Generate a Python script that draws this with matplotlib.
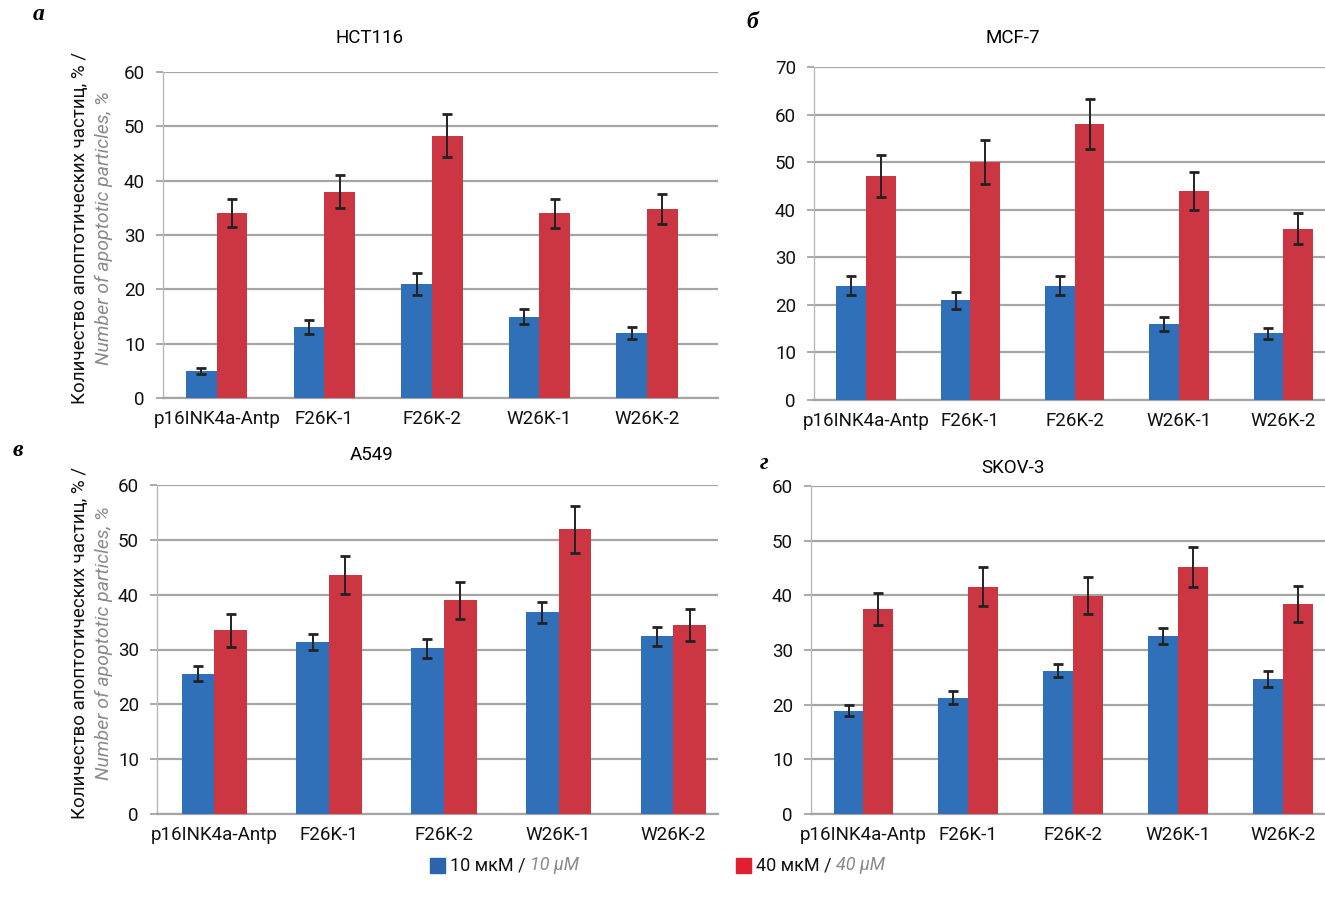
import matplotlib
matplotlib.use("Agg")
import matplotlib.pyplot as plt
from matplotlib.patches import Rectangle
import numpy as np

plt.rcParams['font.family'] = ['Roboto', 'DejaVu Sans']

categories = ['p16INK4a-Antp', 'F26K-1', 'F26K-2', 'W26K-1', 'W26K-2']

# HCT116
hct116_10 = [5, 13, 21, 15, 12]
hct116_10_err = [0.5, 1.3, 2.0, 1.4, 1.1]
hct116_40 = [34, 38, 48.3, 34, 34.8]
hct116_40_err = [2.6, 3.0, 4.0, 2.7, 2.8]

# MCF-7
mcf7_10 = [24, 21, 24, 16, 14]
mcf7_10_err = [2.0, 1.8, 2.0, 1.5, 1.2]
mcf7_40 = [47, 50, 58, 44, 36]
mcf7_40_err = [4.4, 4.6, 5.2, 4.0, 3.3]

# A549
a549_10 = [25.6, 31.4, 30.2, 36.8, 32.4]
a549_10_err = [1.4, 1.5, 1.7, 1.9, 1.7]
a549_40 = [33.5, 43.6, 39.0, 51.9, 34.5]
a549_40_err = [3.0, 3.5, 3.4, 4.3, 2.9]

# SKOV-3
skov3_10 = [18.9, 21.3, 26.2, 32.6, 24.7]
skov3_10_err = [1.0, 1.2, 1.2, 1.5, 1.4]
skov3_40 = [37.5, 41.6, 39.9, 45.2, 38.4]
skov3_40_err = [3.0, 3.5, 3.4, 3.7, 3.3]

W, H = 1325, 901
BLUE = '#3070b8'
RED = '#cc3642'
GRID = '#a5a5a5'

fig = plt.figure(figsize=(W / 100, H / 100), dpi=100)


def px(x, y):
    return x / W, 1 - y / H


def panel(rect, title, title_xy, letter, letter_xy, v10, e10, v40, e40, ymax, xmax):
    l, t, r, b = rect
    ax = fig.add_axes([l / W, 1 - b / H, (r - l) / W, (b - t) / H])
    x = np.arange(len(categories))
    w = 0.285
    ax.bar(x - w / 2, v10, w, color=BLUE, zorder=3)
    ax.bar(x + w / 2, v40, w, color=RED, zorder=3)
    ax.errorbar(x - w / 2, v10, yerr=e10, fmt='none', ecolor='#222222',
                elinewidth=1.4, capsize=3.5, capthick=2, zorder=4)
    ax.errorbar(x + w / 2, v40, yerr=e40, fmt='none', ecolor='#222222',
                elinewidth=1.4, capsize=3.5, capthick=2, zorder=4)
    ax.set_xlim(-0.5, xmax)
    ax.set_ylim(0, ymax)
    ax.set_yticks(np.arange(0, ymax + 1, 10))
    ax.set_xticks(x)
    ax.set_xticklabels(categories)
    ax.yaxis.grid(True, color=GRID, lw=1.6, zorder=0)
    ax.set_axisbelow(True)
    for s in ['top', 'right']:
        ax.spines[s].set_visible(False)
    ax.spines['left'].set_color('#b8b8b8')
    ax.spines['left'].set_linewidth(1.0)
    ax.spines['bottom'].set_color(GRID)
    ax.spines['bottom'].set_linewidth(1.6)
    ax.tick_params(axis='y', length=5, width=1.3, color=GRID, pad=8,
                   labelsize=13.5, labelcolor='#111111')
    ax.tick_params(axis='x', length=0, pad=9, labelsize=13.5, labelcolor='#111111')
    fig.text(*px(*title_xy), title, ha='center', va='center', fontsize=13.5)
    fig.text(*px(*letter_xy), letter, ha='center', va='center', fontsize=17,
             family='Liberation Serif', weight='bold', style='italic')
    return ax


panel((163, 72, 718, 398), 'HCT116', (370, 38), 'а', (39, 15),
      hct116_10, hct116_10_err, hct116_40, hct116_40_err, 60, 4.66)
panel((814, 67, 1325, 400), 'MCF-7', (1013, 38), 'б', (752, 22),
      mcf7_10, mcf7_10_err, mcf7_40, mcf7_40_err, 70, 4.4)
panel((157, 485, 718, 814), 'A549', (372, 455), 'в', (18, 450),
      a549_10, a549_10_err, a549_40, a549_40_err, 60, 4.39)
panel((811, 486, 1325, 814), 'SKOV-3', (1013, 468), 'г', (764, 463),
      skov3_10, skov3_10_err, skov3_40, skov3_40_err, 60, 4.4)

# y-axis labels (two lines, Russian / English)
for yc in (228, 643):
    fig.text(*px(80, yc), 'Количество апоптотических частиц, % /', rotation=90,
             ha='center', va='center', fontsize=13.5, color='#111111')
    fig.text(*px(104, yc), 'Number of apoptotic particles, %', rotation=90,
             ha='center', va='center', fontsize=14, color='#8a8a8a', style='italic')

# legend
renderer = fig.canvas.get_renderer()
legend_items = [(437, '#2b63ad', '10 мкМ / ', '10 µM'),
                (743, '#e21f30', '40 мкМ / ', '40 µM')]
for xs, col, ru, en in legend_items:
    fig.patches.append(Rectangle(px(xs - 7, 873), 15 / W, 15 / H, color=col,
                                 transform=fig.transFigure, figure=fig))
    t1 = fig.text(*px(xs + 13, 865), ru, ha='left', va='center', fontsize=13,
                  color='#111111')
    bb = t1.get_window_extent(renderer)
    fig.text(bb.x1 / W, 1 - 865 / H, en, ha='left', va='center', fontsize=13,
             color='#8a8a8a', style='italic')

fig.savefig('out.png', dpi=100)
